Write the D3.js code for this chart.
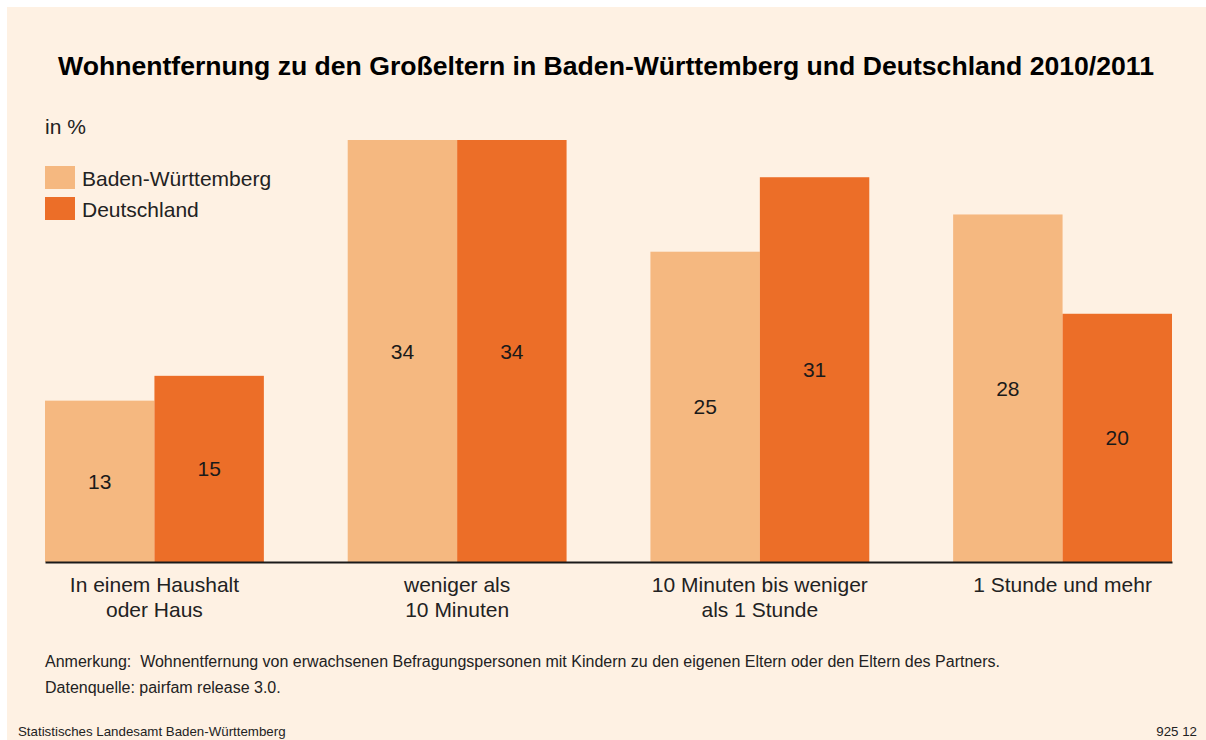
<!DOCTYPE html>
<html><head><meta charset="utf-8">
<script src="https://cdn.jsdelivr.net/npm/d3@7"></script>
<style>
html,body{margin:0;padding:0;background:#ffffff;}
svg{display:block;font-family:"Liberation Sans",Arial,sans-serif;}
text{white-space:pre;}
</style></head>
<body><svg id="c" width="1206" height="740"></svg>
<script>
const categories = ["In einem Haushalt|oder Haus", "weniger als|10 Minuten", "10 Minuten bis weniger|als 1 Stunde", "1 Stunde und mehr"];
const seriesNames = ["Baden-Württemberg", "Deutschland"];
const bwValues = [13, 34, 25, 28];
const deValues = [15, 34, 31, 20];
const colors = ["#f5b880", "#ec6e28"];

const svg = d3.select("#c");
svg.append("rect").attr("x",7).attr("y",7).attr("width",1199).attr("height",733).attr("fill","#fef1e3");

svg.append("text").attr("x",606).attr("y",75).attr("text-anchor","middle")
  .attr("font-size",26.6).attr("font-weight","bold").attr("fill","#000")
  .text("Wohnentfernung zu den Großeltern in Baden-Württemberg und Deutschland 2010/2011");

svg.append("text").attr("x",45).attr("y",134).attr("font-size",21).attr("fill","#222").text("in %");

const x0 = d3.scaleBand().domain(d3.range(categories.length)).range([45,1172]).paddingInner(0.277).paddingOuter(0);
const x1 = d3.scaleBand().domain([0,1]).range([0,x0.bandwidth()]);
const y = d3.scaleLinear().domain([0,34]).range([562,140]);

const data = categories.map((c,i)=>({c, vals:[bwValues[i], deValues[i]]}));
const g = svg.selectAll("g.grp").data(data).join("g").attr("class","grp")
  .attr("transform",(d,i)=>`translate(${x0(i)},0)`);
g.selectAll("rect").data(d=>d.vals).join("rect")
  .attr("x",(v,j)=>x1(j)).attr("width",x1.bandwidth())
  .attr("y",v=>y(v)).attr("height",v=>y(0)-y(v)).attr("fill",(v,j)=>colors[j]);
g.selectAll("text.val").data(d=>d.vals).join("text").attr("class","val")
  .attr("x",(v,j)=>x1(j)+x1.bandwidth()/2).attr("y",v=>(y(v)+y(0))/2+7.5)
  .attr("text-anchor","middle").attr("font-size",21).attr("fill","#1a1a1a").text(v=>v);

// axis
const axis = d3.axisBottom(x0).tickSize(0).tickFormat("");
const ax = svg.append("g").attr("transform","translate(0,562)").call(axis);
ax.select(".domain").attr("stroke","#1a1a1a").attr("stroke-width",2);
categories.forEach((c,i)=>{
  const lines = c.split("|");
  const t = svg.append("text").attr("x",x0(i)+x0.bandwidth()/2).attr("text-anchor","middle")
    .attr("font-size",21).attr("fill","#222");
  lines.forEach((l,k)=>t.append("tspan").attr("x",x0(i)+x0.bandwidth()/2).attr("y",592+k*25).text(l));
});

// legend
seriesNames.forEach((s,i)=>{
  svg.append("rect").attr("x",45).attr("y",166+i*31).attr("width",30).attr("height",23).attr("fill",colors[i]);
  svg.append("text").attr("x",82).attr("y",185.5+i*31).attr("font-size",21).attr("fill","#222").text(s);
});

svg.append("text").attr("x",45).attr("y",667).attr("font-size",16).attr("fill","#222")
  .text("Anmerkung:  Wohnentfernung von erwachsenen Befragungspersonen mit Kindern zu den eigenen Eltern oder den Eltern des Partners.");
svg.append("text").attr("x",45).attr("y",693).attr("font-size",16).attr("fill","#222")
  .text("Datenquelle: pairfam release 3.0.");
svg.append("text").attr("x",18).attr("y",736).attr("font-size",13.3).attr("fill","#222").text("Statistisches Landesamt Baden-Württemberg");
svg.append("text").attr("x",1197).attr("y",736).attr("text-anchor","end").attr("font-size",13.3).attr("fill","#222").text("925 12");
</script></body></html>
